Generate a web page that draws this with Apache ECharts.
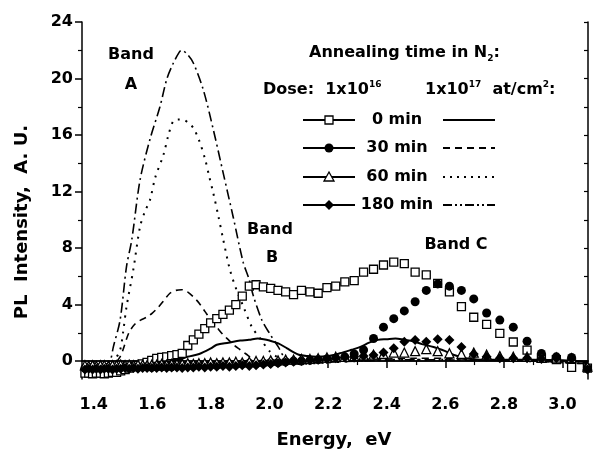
<!DOCTYPE html>
<html>
<head>
<meta charset="utf-8">
<script src="https://cdn.jsdelivr.net/npm/echarts@6/dist/echarts.min.js"></script>
<style>
  html, body { margin: 0; padding: 0; background: #fff; }
  #chart { width: 594px; height: 460px; }
</style>
</head>
<body>
<div id="chart"></div>
<script>
// tick positions / labels
const xTickLabels = [1.4, 1.6, 1.8, 2.0, 2.2, 2.4, 2.6, 2.8, 3.0];
const xMinorTicks = [1.5, 1.7, 1.9, 2.1, 2.3, 2.5, 2.7, 2.9];
const yTickLabels = [0, 4, 8, 12, 16, 20, 24];
const yMinorTicks = [2, 6, 10, 14, 18, 22];
const yRightTicks = [0, 2, 4, 6, 8, 10, 12, 14, 16, 18, 20, 22, 24];

// dose 1x10^16: symbols, shared energy grid (eV)
const energy16 = [1.370, 1.383, 1.396, 1.409, 1.423, 1.436, 1.450, 1.464, 1.478, 1.492,
  1.507, 1.521, 1.536, 1.551, 1.567, 1.582, 1.598, 1.615, 1.632, 1.649,
  1.666, 1.684, 1.702, 1.721, 1.740, 1.759, 1.779, 1.799, 1.820, 1.841,
  1.863, 1.885, 1.907, 1.931, 1.954, 1.979, 2.004, 2.029, 2.055, 2.082,
  2.109, 2.138, 2.166, 2.196, 2.226, 2.257, 2.289, 2.321, 2.355, 2.389,
  2.424, 2.460, 2.497, 2.535, 2.574, 2.614, 2.655, 2.697, 2.741, 2.786,
  2.832, 2.879, 2.928, 2.979, 3.031, 3.085];
const d16_0min = [-0.85, -0.85, -0.9, -0.85, -0.85, -0.9, -0.85, -0.8, -0.8,
  -0.7, -0.6, -0.5, -0.4, -0.3, -0.2, -0.1, 0.05,
  0.19, 0.26, 0.3, 0.38, 0.45,
  0.55, 1.1, 1.5, 1.9, 2.3, 2.7, 3.0, 3.3, 3.6, 4.0, 4.6, 5.3, 5.4, 5.25,
  5.15, 5.0, 4.9, 4.7, 5.0, 4.9, 4.8, 5.2, 5.3, 5.6, 5.7, 6.3,
  6.5, 6.8, 7.0, 6.9, 6.3, 6.1,
  5.5, 4.9, 3.85, 3.1, 2.6, 1.96, 1.35, 0.78, 0.2, 0.1, -0.45, -0.5];
const d16_30min = [-0.5, -0.45, -0.5, -0.45, -0.5, -0.45, -0.45, -0.5, -0.45, -0.45,
  -0.4, -0.45, -0.4, -0.45, -0.4, -0.4, -0.45,
  -0.4, -0.4, -0.35, -0.4, -0.35, -0.35, -0.3, -0.35, -0.3, -0.3, -0.25, -0.3, -0.25,
  -0.2, -0.25, -0.2, -0.15, -0.2, -0.15,
  -0.1, -0.1, -0.05, 0.0, 0.0, 0.05, 0.1, 0.15, 0.2, 0.3, 0.5, 0.78,
  1.6, 2.4, 3.0, 3.55, 4.2, 5.0, 5.46, 5.3, 5.0, 4.4, 3.4, 2.9, 2.4, 1.4, 0.54, 0.3, 0.25, -0.5];
const d16_60min = [-0.3, -0.35, -0.3, -0.35, -0.3, -0.3, -0.35, -0.3, -0.3, -0.25,
  -0.3, -0.25, -0.3, -0.25, -0.25, -0.3, -0.25,
  -0.25, -0.2, -0.25, -0.2, -0.2, -0.2, -0.15, -0.2, -0.15, -0.15, -0.1, -0.15, -0.1,
  -0.1, -0.05, -0.1, -0.05, 0.0, 0.0,
  0.05, 0.05, 0.1, 0.1, 0.15, 0.15, 0.2, 0.25, 0.3, 0.3, 0.35, 0.4,
  0.45, 0.5, 0.6, 0.6, 0.7, 0.85, 0.7, 0.55, 0.5, 0.6, 0.45, 0.35, 0.3, 0.3, 0.25, 0.25, 0.2, -0.4];
const d16_180min = [-0.6, -0.55, -0.6, -0.55, -0.6, -0.55, -0.55, -0.6, -0.55, -0.55,
  -0.5, -0.55, -0.5, -0.55, -0.5, -0.5, -0.5,
  -0.5, -0.45, -0.5, -0.45, -0.45, -0.5, -0.45, -0.45, -0.4, -0.45, -0.4, -0.4, -0.35,
  -0.4, -0.35, -0.3, -0.35, -0.3, -0.25,
  -0.2, -0.15, -0.1, -0.05, 0.0, 0.05, 0.1, 0.15, 0.2, 0.25, 0.3, 0.35,
  0.43, 0.6, 0.9, 1.37, 1.49, 1.37, 1.54, 1.49, 1.0, 0.5, 0.3, 0.2, 0.2, 0.2, 0.15, 0.2, 0.15, -0.6];

// dose 1x10^17: lines
const e17_0min = [1.36, 1.40, 1.45, 1.50, 1.55, 1.60, 1.65, 1.70, 1.72, 1.76, 1.80, 1.82, 1.86, 1.90,
  1.93, 1.96, 1.98, 2.00, 2.03, 2.06, 2.08, 2.10, 2.13, 2.16, 2.20, 2.24, 2.28, 2.31,
  2.34, 2.37, 2.40, 2.43, 2.46, 2.49, 2.52, 2.56, 2.60, 2.63, 2.67, 2.72, 2.80, 2.90, 3.00, 3.087];
const d17_0min = [-0.5, -0.45, -0.4, -0.35, -0.3, -0.25, -0.1, 0.15, 0.3, 0.5, 0.9, 1.15, 1.3, 1.45,
  1.5, 1.6, 1.55, 1.45, 1.25, 0.9, 0.65, 0.45, 0.35, 0.3, 0.35, 0.55, 0.8, 1.0,
  1.3, 1.5, 1.55, 1.6, 1.5, 1.4, 1.2, 1.0, 0.7, 0.43, 0.2, 0.1, 0.1, 0.1, 0.05, -0.1];
const e17_30min = [1.36, 1.40, 1.44, 1.47, 1.49, 1.50, 1.52, 1.54, 1.56, 1.58, 1.60, 1.62, 1.64, 1.66,
  1.68, 1.70, 1.72, 1.74, 1.76, 1.78, 1.80, 1.82, 1.84, 1.86, 1.88, 1.90, 1.92, 1.94, 1.97,
  2.00, 2.05, 2.10, 2.20, 2.30, 2.40, 2.50, 2.60, 2.70, 2.80, 2.90, 3.00, 3.087];
const d17_30min = [-0.5, -0.45, -0.4, -0.2, 0.3, 0.8, 2.0, 2.6, 2.9, 3.1, 3.4, 3.8, 4.3, 4.8,
  5.0, 5.05, 4.9, 4.55, 4.1, 3.5, 2.9, 2.4, 1.9, 1.5, 1.1, 0.8, 0.5, 0.2, 0.0,
  -0.1, -0.15, -0.1, 0.0, 0.1, 0.15, 0.2, 0.2, 0.1, 0.05, 0.0, -0.1, -0.2];
const e17_60min = [1.36, 1.42, 1.46, 1.47, 1.49, 1.50, 1.512, 1.535, 1.558, 1.575, 1.592, 1.61, 1.638,
  1.655, 1.672, 1.69, 1.706, 1.72, 1.74, 1.76, 1.78, 1.795, 1.808, 1.825, 1.842, 1.865,
  1.888, 1.91, 1.94, 1.968, 2.00, 2.025, 2.05, 2.10, 2.20, 2.30, 2.40, 2.60, 2.80, 3.00, 3.087];
const d17_60min = [-0.5, -0.45, -0.3, 0.0, 0.78, 2.0, 3.85, 6.45, 9.5, 10.6, 11.4, 13.0, 14.6,
  16.0, 17.0, 17.1, 17.1, 16.9, 16.5, 15.6, 14.3, 13.0, 11.9, 10.3, 8.6, 6.45,
  5.0, 3.9, 2.4, 1.6, 0.7, 0.3, 0.0, -0.2, -0.1, 0.0, 0.1, 0.1, 0.05, -0.1, -0.2];
const e17_180min = [1.36, 1.42, 1.44, 1.456, 1.467, 1.49, 1.512, 1.53, 1.558, 1.592, 1.626, 1.65,
  1.672, 1.69, 1.70, 1.72, 1.74, 1.774, 1.808, 1.842, 1.876, 1.91, 1.93, 1.945, 1.974,
  2.00, 2.03, 2.05, 2.08, 2.15, 2.30, 2.50, 2.70, 2.90, 3.087];
const d17_180min = [-0.5, -0.45, -0.3, 0.0, 1.0, 2.9, 6.7, 8.6, 12.8, 15.7, 18.0, 20.0,
  21.1, 21.8, 22.0, 21.7, 21.1, 19.2, 16.4, 13.3, 10.2, 7.0, 5.8, 4.6, 2.9,
  1.96, 1.0, 0.3, 0.0, -0.1, 0.0, 0.1, 0.05, 0.0, -0.2];

const FONT = 'DejaVu Sans';
const zip = (xs, ys) => xs.map((x, i) => [x, ys[i]]);

const chart = echarts.init(document.getElementById('chart'));

const X_MIN = 1.36, X_MAX = 3.087, Y_MIN = -1.27, Y_MAX = 24;
const gridBox = { left: 82, right: 6, top: 22, bottom: 81 };
const labelStyle = { color: '#000', fontFamily: FONT, fontWeight: 'bold', fontSize: 16 };
const blackLine = { lineStyle: { color: '#000', width: 1.5 } };

function lineSeries(name, xs, ys, type, width) {
  return {
    name: name, type: 'line', data: zip(xs, ys), showSymbol: false, smooth: 0.3,
    lineStyle: { color: '#000', width: width, type: type, cap: 'butt', opacity: 1 },
    z: 2, silent: true
  };
}
function symbolSeries(name, ys, symbol, size, filled) {
  return {
    name: name, type: 'scatter', data: zip(energy16, ys), symbol: symbol, symbolSize: size,
    itemStyle: filled ? { color: '#000', opacity: 1 } : { color: '#fff', borderColor: '#000', borderWidth: 1.3, opacity: 1 },
    z: 3, silent: true
  };
}

// legend drawn with graphic elements
const rows = [120, 148, 177, 205];
const rowText = ['0 min', '30 min', '60 min', '180 min'];
const rightDash = [null, [7, 5], [2, 5], [9, 3, 2, 3, 2, 3]];
const legendEls = [];
rows.forEach((y, i) => {
  legendEls.push({ type: 'line', shape: { x1: 303, y1: y, x2: 355, y2: y }, style: { stroke: '#000', lineWidth: 2 } });
  legendEls.push({ type: 'line', shape: { x1: 443, y1: y, x2: 495, y2: y },
    style: { stroke: '#000', lineWidth: 2, lineDash: rightDash[i] } });
  legendEls.push({ type: 'text', x: 397, y: y,
    style: { text: rowText[i], fill: '#000', font: 'bold 16px "DejaVu Sans"', align: 'center', verticalAlign: 'middle', textAlign: 'center', textVerticalAlign: 'middle' } });
});
legendEls.push({ type: 'rect', shape: { x: 325, y: 116, width: 8, height: 8 }, style: { fill: '#fff', stroke: '#000', lineWidth: 1.3 } });
legendEls.push({ type: 'circle', shape: { cx: 329, cy: 148, r: 4.5 }, style: { fill: '#000' } });
legendEls.push({ type: 'polygon', shape: { points: [[329, 172], [334, 181], [324, 181]] }, style: { fill: '#fff', stroke: '#000', lineWidth: 1.3 } });
legendEls.push({ type: 'polygon', shape: { points: [[329, 200], [334, 205], [329, 210], [324, 205]] }, style: { fill: '#000' } });

function label(x, y, text, extra) {
  return Object.assign({
    type: 'text', x: x, y: y,
    style: Object.assign({
      text: text, fill: '#000', font: 'bold 16px "DejaVu Sans"',
      align: 'left', verticalAlign: 'middle', textAlign: 'left', textVerticalAlign: 'middle',
      rich: {
        n: { font: 'bold 16px "DejaVu Sans"', lineHeight: 20 },
        sup: { font: 'bold 9px "DejaVu Sans"', lineHeight: 9, verticalAlign: 'top' },
        sub: { font: 'bold 9px "DejaVu Sans"', lineHeight: 9, verticalAlign: 'bottom' }
      }
    }, extra || {})
  });
}

const texts = [
  label(309, 53, '{n|Annealing time in N}{sub|2}{n|:}'),
  label(263, 90, '{n|Dose:  1x10}{sup|16}'),
  label(425, 90, '{n|1x10}{sup|17}{n|  at/cm}{sup|2}{n|:}'),
  label(131, 55, 'Band', { align: 'center', textAlign: 'center' }),
  label(131, 85, 'A', { align: 'center', textAlign: 'center' }),
  label(270, 230, 'Band', { align: 'center', textAlign: 'center' }),
  label(272, 258, 'B', { align: 'center', textAlign: 'center' }),
  label(456, 245, 'Band C', { align: 'center', textAlign: 'center' }),
  label(334, 440, 'Energy,  eV', { align: 'center', textAlign: 'center', font: 'bold 18px "DejaVu Sans"' }),
  Object.assign(label(22, 222, 'PL  Intensity,  A. U.', { align: 'center', textAlign: 'center', font: 'bold 18px "DejaVu Sans"' }), { rotation: Math.PI / 2 })
];

chart.setOption({
  backgroundColor: '#fff',
  animation: false,
  grid: [
    Object.assign({}, gridBox),
    Object.assign({}, gridBox)
  ],
  xAxis: [
    { gridIndex: 0, type: 'value', min: X_MIN, max: X_MAX, position: 'bottom',
      axisLine: blackLine, splitLine: { show: false },
      axisTick: { customValues: xTickLabels, length: 7, lineStyle: { color: '#000', width: 1.5 } },
      axisLabel: Object.assign({ customValues: xTickLabels, margin: 18, formatter: v => v.toFixed(1) }, labelStyle) },
    { gridIndex: 0, type: 'value', min: X_MIN, max: X_MAX, position: 'top',
      axisLine: blackLine, splitLine: { show: false }, axisTick: { show: false }, axisLabel: { show: false } },
    { gridIndex: 1, type: 'value', min: X_MIN, max: X_MAX, position: 'bottom',
      axisLine: { show: false }, splitLine: { show: false },
      axisTick: { customValues: xMinorTicks, length: 4, lineStyle: { color: '#000', width: 1.2 } },
      axisLabel: { show: false } }
  ],
  yAxis: [
    { gridIndex: 0, type: 'value', min: Y_MIN, max: Y_MAX, position: 'left',
      axisLine: Object.assign({ show: true }, blackLine), splitLine: { show: false },
      axisTick: { show: true, customValues: yTickLabels, length: 7, lineStyle: { color: '#000', width: 1.5 } },
      axisLabel: Object.assign({ customValues: yTickLabels, margin: 9 }, labelStyle) },
    { gridIndex: 0, type: 'value', min: Y_MIN, max: Y_MAX, position: 'right',
      axisLine: Object.assign({ show: true }, blackLine), splitLine: { show: false },
      axisTick: { show: true, inside: true, customValues: yRightTicks, length: 4, lineStyle: { color: '#000', width: 1.2 } },
      axisLabel: { show: false } },
    { gridIndex: 1, type: 'value', min: Y_MIN, max: Y_MAX, position: 'left',
      axisLine: { show: false }, splitLine: { show: false },
      axisTick: { show: true, customValues: yMinorTicks, length: 4, lineStyle: { color: '#000', width: 1.2 } },
      axisLabel: { show: false } }
  ],
  series: [
    lineSeries('1e17 0 min', e17_0min, d17_0min, 'solid', 2),
    lineSeries('1e17 30 min', e17_30min, d17_30min, [7, 5], 1.6),
    lineSeries('1e17 60 min', e17_60min, d17_60min, [2, 6], 2),
    lineSeries('1e17 180 min', e17_180min, d17_180min, [10, 4, 2, 4], 1.6),
    symbolSeries('1e16 0 min', d16_0min, 'rect', 8, false),
    symbolSeries('1e16 30 min', d16_30min, 'circle', 9, true),
    symbolSeries('1e16 60 min', d16_60min, 'triangle', 9, false),
    symbolSeries('1e16 180 min', d16_180min, 'diamond', 10, true)
  ],
  graphic: { elements: legendEls.concat(texts).map(e => Object.assign({ z: 100 }, e)) }
});
</script>
</body>
</html>
